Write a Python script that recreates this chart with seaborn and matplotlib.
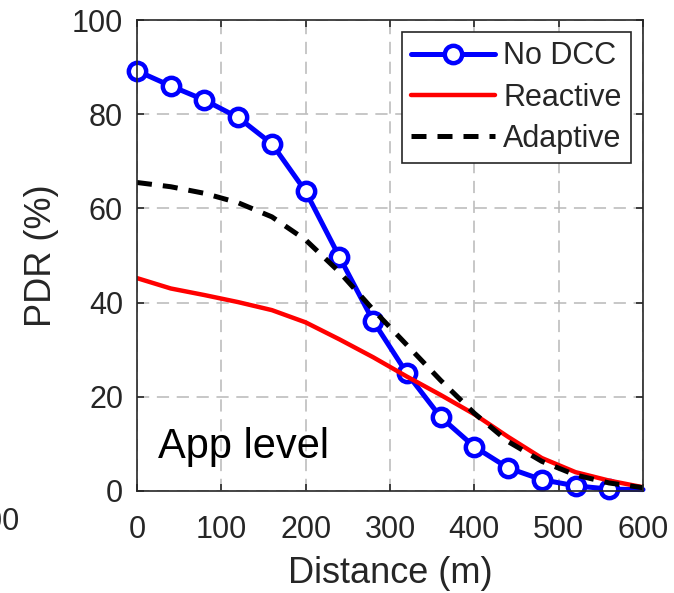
import numpy as np
import pandas as pd
import matplotlib
matplotlib.use("Agg")
import matplotlib.pyplot as plt
import seaborn as sns

# valores
distance = [0, 40, 80, 120, 160, 200, 240, 280, 320, 360, 400, 440, 480, 520, 560, 600]
no_dcc = [89.2, 86.0, 83.0, 79.3, 73.7, 63.6, 49.7, 36.1, 25.0, 15.7, 9.4, 4.9, 2.4, 1.1, 0.4, 0.3]
reactive = [45.2, 43.0, 41.6, 40.1, 38.4, 35.8, 32.2, 28.4, 24.3, 20.4, 16.3, 11.5, 7.0, 4.0, 2.2, 0.8]
adaptive = [65.5, 64.6, 63.2, 61.2, 58.2, 53.3, 46.5, 38.5, 31.0, 23.5, 16.5, 10.5, 6.3, 3.4, 1.7, 0.7]

df = pd.DataFrame({'distance': distance, 'No DCC': no_dcc,
                   'Reactive': reactive, 'Adaptive': adaptive})

sns.set_theme(style="ticks")
plt.rcParams['font.family'] = ['Liberation Sans', 'DejaVu Sans']
txt = '#262626'
fs = 22

fig = plt.figure(figsize=(6.74, 5.93), dpi=100)
ax = fig.add_axes([137 / 674, 1 - 491 / 593, 506 / 674, 471 / 593])

sns.lineplot(x='distance', y='No DCC', data=df, ax=ax, color='#0000ff', lw=3.6,
             marker='o', markersize=12.5, markerfacecolor='white', markeredgecolor='#0000ff',
             markeredgewidth=3.2, markevery=slice(0, 15), clip_on=False, label='No DCC')
sns.lineplot(x='distance', y='Reactive', data=df, ax=ax, color='#ff0000', lw=3.2, label='Reactive')
sns.lineplot(x='distance', y='Adaptive', data=df, ax=ax, color='black', lw=3.6,
             linestyle=(0, (3, 2.2)), label='Adaptive')

ax.set_xlim(0, 600)
ax.set_ylim(0, 100)
ax.set_xticks(range(0, 601, 100))
ax.set_yticks(range(0, 101, 20))
ax.grid(True, color='#b8b8b8', linestyle=(0, (8, 5)), lw=1.1)
ax.set_axisbelow(True)
for s in ax.spines.values():
    s.set_color(txt)
    s.set_linewidth(1.2)
ax.tick_params(direction='in', length=5, width=1.2, colors=txt, labelsize=fs, top=True, right=True)
ax.tick_params(axis='x', pad=17)
ax.tick_params(axis='y', pad=10)
ax.set_xlabel('Distance (m)', fontsize=26, color=txt, labelpad=8)
ax.set_ylabel('PDR (%)', fontsize=26, color=txt, labelpad=9)

ax.text(25, 7.0, 'App level', fontsize=30, color='black', ha='left', va='baseline')

leg = ax.legend(loc='upper right', fontsize=fs, handlelength=2.75, handletextpad=0.27,
                borderpad=0.3, labelspacing=0.37, borderaxespad=0.4, fancybox=False,
                framealpha=1, edgecolor=txt)
leg.get_frame().set_linewidth(1.2)

# fragment of the neighbouring panel's tick label
fig.text(20 / 674, 1 - 522 / 593, '600', fontsize=fs, color=txt, ha='right', va='center')

fig.savefig('out.png', dpi=100)
